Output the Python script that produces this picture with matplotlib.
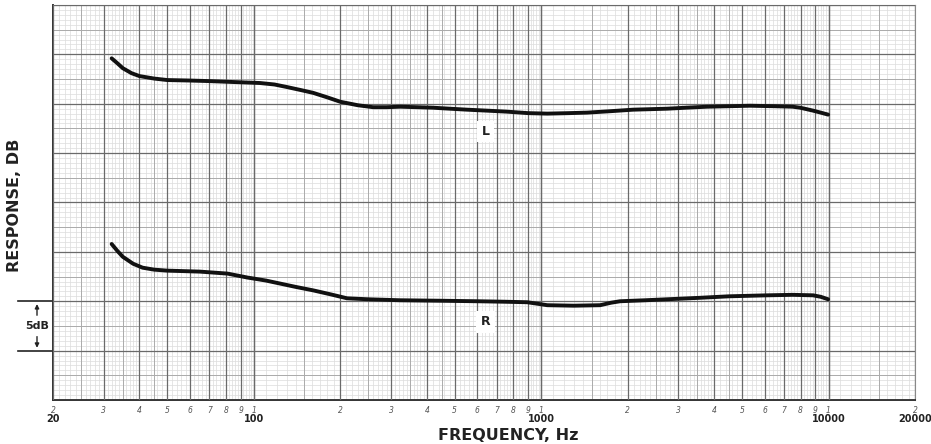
import numpy as np
import matplotlib

matplotlib.use("Agg")
import matplotlib.pyplot as plt
import matplotlib.transforms as mtransforms

# frequency response readings (Hz, dB) for the two channels
l_freq = [32, 33.5, 35, 37.5, 40, 45, 50, 60, 69, 85, 105, 118, 130, 145, 161,
          180, 200, 230, 260, 290, 323, 370, 420, 480, 552, 650, 760, 900,
          1050, 1250, 1444, 1750, 2090, 2400, 2742, 3200, 3780, 4500, 5330,
          6500, 7500, 7960, 8400, 8840, 9400, 9970]
l_db = [34.6, 34.1, 33.6, 33.1, 32.8, 32.55, 32.4, 32.35, 32.3, 32.2, 32.1,
        31.95, 31.7, 31.4, 31.1, 30.65, 30.2, 29.85, 29.65, 29.65, 29.7, 29.65,
        29.6, 29.5, 29.4, 29.3, 29.2, 29.05, 29.0, 29.05, 29.1, 29.25, 29.4,
        29.45, 29.5, 29.6, 29.7, 29.75, 29.8, 29.75, 29.7, 29.6, 29.45, 29.3,
        29.1, 28.9]

r_freq = [32, 33.5, 35, 38, 41, 45, 50, 65, 81, 95, 110, 123, 140, 161, 185,
          211, 250, 323, 450, 600, 750, 894, 970, 1050, 1300, 1604, 1750, 1882,
          2300, 2742, 3573, 4500, 6110, 7500, 8840, 9400, 9970]
r_db = [15.8, 15.1, 14.5, 13.8, 13.4, 13.2, 13.1, 13.0, 12.8, 12.4, 12.1, 11.8,
        11.45, 11.1, 10.7, 10.3, 10.2, 10.1, 10.05, 10.0, 9.95, 9.9, 9.75, 9.6,
        9.55, 9.6, 9.85, 10.0, 10.1, 10.2, 10.35, 10.5, 10.6, 10.65, 10.6,
        10.45, 10.2]

decades = [10, 100, 1000, 10000]
big_labels = {20: "20", 100: "100", 1000: "1000", 10000: "10000", 20000: "20000"}

fig = plt.figure(figsize=(9.31, 4.44), dpi=100)
ax = fig.add_axes([53 / 931, 44 / 444, 862 / 931, 395 / 444])
ax.set_xscale("log")
ax.set_xlim(20, 20000)
ax.set_ylim(0, 40)

# graph paper: horizontal rules
ax.hlines(np.arange(0, 40.01, 0.5), 20, 20000, color="#dcdcdc", lw=0.5, zorder=1)
ax.hlines(np.arange(0, 40.01, 2.5), 20, 20000, color="#ababab", lw=0.7, zorder=2)
ax.hlines(np.arange(0, 40.01, 5), 20, 20000, color="#6a6a6a", lw=0.9, zorder=3)

# graph paper: vertical rules
fine_x, mid_x, heavy_x = [], [], []
for d in decades:
    for m in np.arange(1.0, 10.0, 0.1):
        step = 0.1 if m < 4 else 0.2
        if abs((m / step) - round(m / step)) < 1e-6:
            fine_x.append(m * d)
    for m in np.arange(1.5, 5.0, 1.0):
        mid_x.append(m * d)
    for m in range(1, 11):
        heavy_x.append(m * d)
fine_x = [f for f in fine_x if 20 <= f <= 20000]
mid_x = [f for f in mid_x if 20 <= f <= 20000]
heavy_x = [f for f in heavy_x if 20 <= f <= 20000]
ax.vlines(fine_x, 0, 40, color="#dcdcdc", lw=0.5, zorder=1)
ax.vlines(mid_x, 0, 40, color="#ababab", lw=0.7, zorder=2)
ax.vlines(heavy_x, 0, 40, color="#6a6a6a", lw=0.9, zorder=3)

for side in ["left", "bottom"]:
    ax.spines[side].set_color("#333333")
    ax.spines[side].set_linewidth(1.4)
for side in ["top", "right"]:
    ax.spines[side].set_color("#888888")
    ax.spines[side].set_linewidth(0.8)
ax.set_xticks([])
ax.set_yticks([])
ax.xaxis.set_minor_locator(matplotlib.ticker.NullLocator())

# response curves
for fx, yv in ((l_freq, l_db), (r_freq, r_db)):
    ax.plot(fx, yv, color="#111111", lw=2.8, solid_capstyle="round",
            solid_joinstyle="round", zorder=5)

box = dict(boxstyle="square,pad=0.35", fc="white", ec="none")
ax.text(640, 27.2, "L", fontsize=9, fontweight="bold", color="#222222",
        ha="center", va="center", bbox=box, zorder=6)
ax.text(640, 7.9, "R", fontsize=9, fontweight="bold", color="#222222",
        ha="center", va="center", bbox=box, zorder=6)

# frequency scale labels
trans = mtransforms.blended_transform_factory(ax.transData, ax.transAxes)
for d in decades:
    for m in range(1, 10):
        f = m * d
        if f < 20 or f > 20000:
            continue
        ax.annotate(str(m), xy=(f, 0), xycoords=trans, xytext=(0, -4),
                    textcoords="offset points", ha="center", va="top",
                    fontsize=5.5, fontstyle="italic", color="#555555",
                    annotation_clip=False)
for f, lab in big_labels.items():
    ax.annotate(lab, xy=(f, 0), xycoords=trans, xytext=(0, -10),
                textcoords="offset points", ha="center", va="top",
                fontsize=7, fontweight="bold", color="#222222",
                annotation_clip=False)

fig.text(508 / 931, 1 - 435 / 444, "FREQUENCY, Hz", fontsize=11.5,
         fontweight="bold", color="#222222", ha="center", va="center")
fig.text(15 / 931, 1 - 205 / 444, "RESPONSE, DB", fontsize=11.5,
         fontweight="bold", rotation=90, color="#222222", ha="center",
         va="center")

# 5 dB scale marker on the left
ytrans = mtransforms.blended_transform_factory(ax.transAxes, ax.transData)
x0, x1 = -35 / 862, 0
for yv in (5, 10):
    ax.plot([x0, x1], [yv, yv], transform=ytrans, color="#222222", lw=1.2,
            clip_on=False)
xm = -16 / 862
ax.annotate("", xy=(xm, 10), xycoords=ytrans, xytext=(xm, 8.3),
            textcoords=ytrans,
            arrowprops=dict(arrowstyle="-|>", color="#222222", lw=1.0,
                            mutation_scale=6))
ax.annotate("", xy=(xm, 5), xycoords=ytrans, xytext=(xm, 6.7),
            textcoords=ytrans,
            arrowprops=dict(arrowstyle="-|>", color="#222222", lw=1.0,
                            mutation_scale=6))
ax.text(xm, 7.5, "5dB", transform=ytrans, fontsize=8, fontweight="bold",
        color="#222222", ha="center", va="center")

fig.savefig("out.png", dpi=100, facecolor="white")
